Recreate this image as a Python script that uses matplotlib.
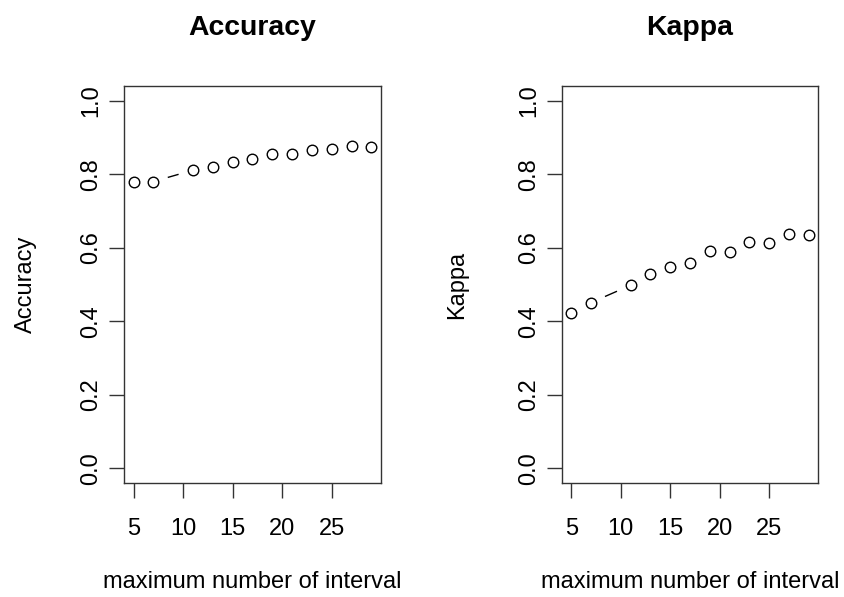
import matplotlib
matplotlib.use("Agg")
import matplotlib.pyplot as plt
import numpy as np

plt.rcParams['font.family'] = ['Liberation Sans', 'DejaVu Sans']

# Tuning results: maximum number of intervals vs. resampled performance
max_intervals = [5, 7, 11, 13, 15, 17, 19, 21, 23, 25, 27, 29]
accuracy = [0.780, 0.780, 0.811, 0.820, 0.834, 0.842, 0.856, 0.854, 0.866, 0.869, 0.877, 0.875]
kappa = [0.423, 0.451, 0.498, 0.528, 0.548, 0.559, 0.592, 0.589, 0.616, 0.613, 0.638, 0.634]

x_ticks = [5, 10, 15, 20, 25]
y_ticks = [0.0, 0.2, 0.4, 0.6, 0.8, 1.0]
x_label = "maximum number of interval"

DPI = 100
W, H = 845, 597
fig = plt.figure(figsize=(W / DPI, H / DPI), dpi=DPI)

TXT = 17
GAP_PX = 15.0  # blank space left around each point by the connecting segments


def px_axes(left, right, top, bottom):
    return fig.add_axes([left / W, (H - bottom) / H, (right - left) / W, (bottom - top) / H])


def gapped_segments(ax, x, y, gap_px):
    """Join consecutive points, leaving a gap of gap_px around each marker."""
    pts = ax.transData.transform(np.column_stack([x, y]))
    inv = ax.transData.inverted()
    for p0, p1 in zip(pts[:-1], pts[1:]):
        d = p1 - p0
        length = np.hypot(*d)
        if length <= 2 * gap_px:
            continue
        u = d / length
        a = inv.transform(p0 + u * gap_px)
        b = inv.transform(p1 - u * gap_px)
        ax.plot([a[0], b[0]], [a[1], b[1]], color="black", lw=1.0,
                solid_capstyle="butt", zorder=2)


def panel(ax, values, title, ylab, ylab_x):
    xmin, xmax = min(max_intervals), max(max_intervals)
    span = xmax - xmin
    ax.set_xlim(xmin - 0.04 * span, xmax + 0.04 * span)
    ax.set_ylim(-0.04, 1.04)
    ax.plot(max_intervals, values, linestyle="none", marker="o", markersize=7.6,
            markerfacecolor="none", markeredgecolor="black", markeredgewidth=1.0, zorder=3)
    gapped_segments(ax, max_intervals, values, GAP_PX)

    ax.set_xticks(x_ticks)
    ax.set_xticklabels([str(t) for t in x_ticks])
    ax.set_yticks(y_ticks)
    ax.set_yticklabels([f"{t:.1f}" for t in y_ticks], rotation=90, va="center")
    ax.tick_params(axis="both", direction="out", length=11, width=1.0,
                   labelsize=TXT, color="#333333")
    ax.tick_params(axis="x", pad=14.5)
    ax.tick_params(axis="y", pad=4.5)
    for s in ax.spines.values():
        s.set_linewidth(1.0)
        s.set_color("#333333")

    ax.set_title(title, fontsize=20.4, fontweight="bold", pad=37)
    ax.set_xlabel(x_label, fontsize=TXT, labelpad=22)
    ax.set_ylabel(ylab, fontsize=TXT)
    ax.yaxis.set_label_coords(ylab_x, 0.5)


ax1 = px_axes(124, 381, 86, 483)
ax2 = px_axes(562, 818, 86, 483)
panel(ax1, accuracy, "Accuracy", "Accuracy", (37 - 124) / 257)
panel(ax2, kappa, "Kappa", "Kappa", (468 - 562) / 256)

fig.savefig("out.png", dpi=DPI, facecolor="white")
